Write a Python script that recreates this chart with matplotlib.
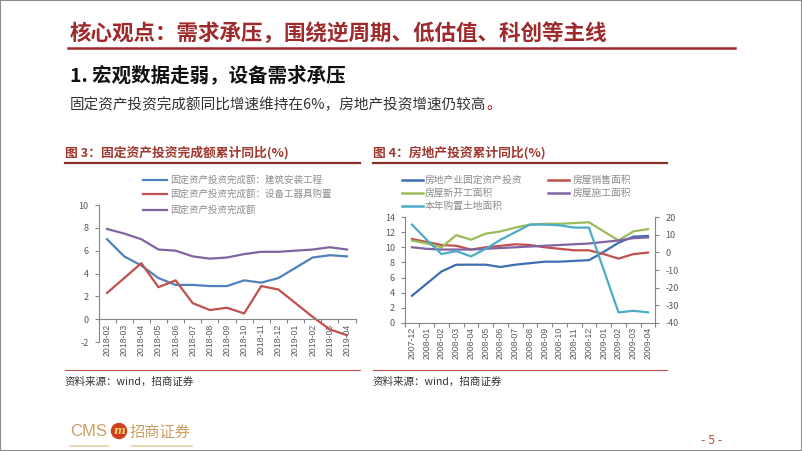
import matplotlib
matplotlib.use("Agg")
import matplotlib.pyplot as plt
from matplotlib.lines import Line2D
from matplotlib.patches import Rectangle, Ellipse
from matplotlib.ticker import FixedLocator, MultipleLocator

plt.rcParams['font.family'] = ['Noto Sans CJK SC', 'DejaVu Sans']
plt.rcParams['axes.unicode_minus'] = False

W, H = 802, 451

# ---- 图3 数据 ----
months3 = ['2018-02', '2018-03', '2018-04', '2018-05', '2018-06', '2018-07', '2018-08',
           '2018-09', '2018-10', '2018-11', '2018-12', '2019-01', '2019-02', '2019-03', '2019-04']
build = [7.0, 5.5, 4.7, 3.6, 3.0, 3.0, 2.9, 2.9, 3.4, 3.2, 3.6, 4.5, 5.4, 5.6, 5.5]
equip = [2.3, 3.6, 4.9, 2.8, 3.4, 1.4, 0.8, 1.0, 0.5, 2.9, 2.6, 1.4, 0.2, -0.9, -1.4]
fai = [7.9, 7.5, 7.0, 6.1, 6.0, 5.5, 5.3, 5.4, 5.7, 5.9, 5.9, 6.0, 6.1, 6.3, 6.1]
names3 = ['固定资产投资完成额：建筑安装工程', '固定资产投资完成额：设备工器具购置', '固定资产投资完成额']

# ---- 图4 数据 ----
months4 = ['2007-12', '2008-01', '2008-02', '2008-03', '2008-04', '2008-05', '2008-06',
           '2008-07', '2008-08', '2008-09', '2008-10', '2008-11', '2008-12', '2009-01',
           '2009-02', '2009-03', '2009-04']
re_inv = [3.6, 5.2, 6.8, 7.7, 7.7, 7.7, 7.4, 7.7, 7.9, 8.1, 8.1, 8.2, 8.3, 9.4, 10.6, 11.4, 11.5]
sales = [11.1, 10.7, 10.3, 10.2, 9.7, 10.0, 10.2, 10.4, 10.3, 10.0, 9.8, 9.6, 9.6, 9.1, 8.5, 9.1, 9.3]
new_start = [10.9, 10.5, 10.0, 11.6, 11.0, 11.8, 12.1, 12.6, 13.0, 13.1, 13.1, 13.2, 13.3, 12.1, 10.9, 12.1, 12.4]
under_con = [10.0, 9.8, 9.7, 9.7, 9.7, 9.8, 9.9, 10.0, 10.1, 10.2, 10.3, 10.4, 10.5, 10.7, 10.9, 11.2, 11.3]
land = [15.7, 7.1, -1.0, 0.7, -2.3, 2.0, 7.1, 11.4, 15.7, 15.7, 15.3, 14.0, 14.0, -10.0, -34.0, -33.1, -34.0]  # 右轴
names4 = ['房地产业固定资产投资', '房屋销售面积', '房屋新开工面积', '房屋施工面积', '本年购置土地面积']

BLUE, RED, GREEN, PURPLE, CYAN = '#4F81BD', '#C0504D', '#9BBB59', '#8064A2', '#4BACC6'
BLUE4 = '#3F6CB4'
DARKRED = '#9E2A2B'
AXC = '#868686'
TXT = '#595959'


def fx(x):
    return x / W


def fy(y):
    return 1 - y / H


def add_ax(x0, y0, x1, y1):
    return fig.add_axes([fx(x0), fy(y1), (x1 - x0) / W, (y1 - y0) / H])


def fig_line(x0, x1, y, color, lw):
    fig.add_artist(Line2D([fx(x0), fx(x1)], [fy(y), fy(y)], color=color, lw=lw))


def style_cat_axis(ax, labels):
    n = len(labels)
    ax.set_xlim(-0.5, n - 0.5)
    ax.set_xticks(range(n))
    ax.set_xticklabels(labels, rotation=90, fontsize=6.3, color=TXT, family='Liberation Sans')
    ax.xaxis.set_minor_locator(FixedLocator([i - 0.5 for i in range(n + 1)]))
    ax.tick_params(axis='x', which='major', length=0, pad=3)
    ax.tick_params(axis='x', which='minor', length=3, color=AXC, width=0.8)
    ax.tick_params(axis='y', length=3, color=AXC, width=0.8, labelsize=6.5, labelcolor=TXT, pad=4)
    for s in ['top', 'right']:
        ax.spines[s].set_visible(False)
    for s in ['left', 'bottom']:
        ax.spines[s].set_color(AXC)
        ax.spines[s].set_linewidth(0.8)
    ax.patch.set_alpha(0)


fig = plt.figure(figsize=(W / 100, H / 100), dpi=100)

# 外框
fig.add_artist(Rectangle((0, 0), 1, 1, transform=fig.transFigure, fill=False, ec='#8c8c8c', lw=1.5))

# 标题区
fig.text(fx(70), fy(33), '核心观点：需求承压，围绕逆周期、低估值、科创等主线', fontsize=15.5,
         fontweight='bold', color=DARKRED, va='center')
fig_line(68, 735, 48, '#A0282B', 1.8)
fig.text(fx(70), fy(75), '1. 宏观数据走弱，设备需求承压', fontsize=14, fontweight='bold', color='#111111', va='center')
t = fig.text(fx(70), fy(105), '固定资产投资完成额同比增速维持在6%，房地产投资增速仍较高', fontsize=10.5,
             color='#333333', va='center')
fig.canvas.draw()
bb = t.get_window_extent()
fig.text(bb.x1 / W, fy(105), '。', fontsize=10.5, color='#C00000', va='center')

# ---- 图3 ----
fig.text(fx(65), fy(153), '图 3：固定资产投资完成额累计同比(%)', fontsize=9.2, fontweight='bold',
         color='#A0382E', va='center')
fig_line(65, 360, 163, '#8B2E2A', 1.6)

ax3 = add_ax(98.5, 205, 355.5, 342)
x3 = range(len(months3))
ax3.plot(x3, build, color=BLUE, lw=1.6)
ax3.plot(x3, equip, color=RED, lw=1.6)
ax3.plot(x3, fai, color=PURPLE, lw=1.6)
ax3.set_ylim(-2, 10)
ax3.yaxis.set_major_locator(MultipleLocator(2))
ax3.spines['bottom'].set_position(('data', 0))  # 横轴穿过 0
style_cat_axis(ax3, months3)

for (name, c), y in zip(zip(names3, [BLUE, RED, PURPLE]), [180, 194, 210]):
    fig_line(143, 167, y, c, 1.6)
    fig.text(fx(170), fy(y), name, fontsize=6.8, color='#8c8c8c', va='center')

fig_line(65, 360, 370, '#C0504D', 0.8)
fig.text(fx(65), fy(382), '资料来源：wind，招商证券', fontsize=7.6, color='#333333', va='center')

# ---- 图4 ----
fig.text(fx(373), fy(153), '图 4：房地产投资累计同比(%)', fontsize=9.2, fontweight='bold',
         color='#A0382E', va='center')
fig_line(373, 667, 163, '#8B2E2A', 1.6)

ax4 = add_ax(404.6, 217, 655.4, 323)
x4 = range(len(months4))
ax4r = ax4.twinx()
ax4.plot(x4, re_inv, color=BLUE4, lw=1.6)
ax4.plot(x4, sales, color=RED, lw=1.6)
ax4.plot(x4, new_start, color=GREEN, lw=1.6)
ax4.plot(x4, under_con, color=PURPLE, lw=1.6)
ax4r.plot(x4, land, color=CYAN, lw=1.6)
ax4.set_ylim(0, 14)
ax4.yaxis.set_major_locator(MultipleLocator(2))
ax4r.set_ylim(-40, 20)
ax4r.yaxis.set_major_locator(MultipleLocator(10))
style_cat_axis(ax4, months4)
for s in ['top', 'left', 'bottom']:
    ax4r.spines[s].set_visible(False)
ax4r.spines['right'].set_color(AXC)
ax4r.spines['right'].set_linewidth(0.8)
ax4r.tick_params(axis='y', length=3, color=AXC, width=0.8, labelsize=6.5, labelcolor=TXT, pad=4)
ax4r.patch.set_alpha(0)

leg4 = [(402, 425, 180), (548, 573, 180), (402, 425, 193), (548, 573, 193), (402, 425, 206)]
for (name, c), (lx, tx, y) in zip(zip(names4, [BLUE4, RED, GREEN, PURPLE, CYAN]), leg4):
    fig_line(lx, lx + 21, y, c, 1.8)
    fig.text(fx(tx), fy(y), name, fontsize=7, color='#8c8c8c', va='center')

fig_line(373, 667, 370, '#C0504D', 0.8)
fig.text(fx(373), fy(382), '资料来源：wind，招商证券', fontsize=7.6, color='#333333', va='center')

# ---- 页脚 ----
GOLD = '#C9A063'
fig.text(fx(70), fy(432), 'CMS', fontsize=12, color=GOLD, va='center', family='Liberation Sans')
fig.add_artist(Ellipse((fx(119), fy(431)), 15 / W, 15 / H, transform=fig.transFigure,
                       color='#D0401E'))
fig.text(fx(119), fy(431), 'm', fontsize=8, color='#F5D66B', va='center', ha='center',
         fontweight='bold', style='italic', family='DejaVu Serif')
fig.text(fx(130), fy(432), '招商证券', fontsize=11, color=GOLD, va='center')
fig_line(70, 108, 446, '#E3CFA5', 1.2)
fig_line(132, 192, 446, '#E3CFA5', 1.2)
fig.text(fx(712), fy(440), '- 5 -', fontsize=9, color='#C0504D', va='center', ha='center')

fig.savefig('out.png', dpi=100)
